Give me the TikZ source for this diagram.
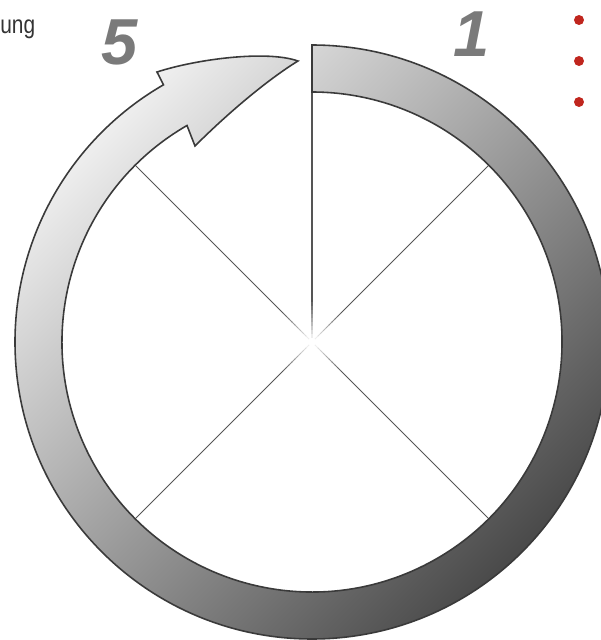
\documentclass[tikz,border=0pt]{standalone}
\usepackage{fontspec}
\setmainfont{Liberation Sans}
\usepackage{tikz}
\usetikzlibrary{positioning}

\definecolor{ringlight}{HTML}{EEEEEE}
\definecolor{ringdark}{HTML}{4A4A4A}
\definecolor{rimline}{HTML}{3A3A3A}
\definecolor{numgray}{HTML}{7A7A7A}
\definecolor{dotred}{HTML}{C0261E}
\definecolor{spokegray}{HTML}{555555}

\begin{document}
\begin{tikzpicture}[
    x=0.02cm, y=0.02cm,
    ring/.style={
        draw=rimline,
        line width=0.9pt,
        top color=ringlight,
        bottom color=ringdark,
        shading angle=45
    },
    spoke/.style={
        line width=0.6pt
    },
    num/.style={
        text=numgray,
        font=\fontsize{37}{37}\selectfont\bfseries\itshape,
        inner sep=0pt
    },
    dot/.style={
        circle,
        fill=dotred,
        minimum size=0.2cm,
        inner sep=0pt,
        outer sep=0pt
    }
]
\useasboundingbox (-312,-298) rectangle (289,342);

% spokes, fading out towards the hub
\foreach \a in {45,90,135,225,315} {
    \draw[spoke, spokegray] (\a:40) -- (\a:250);
    \foreach \i in {0,...,8} {
        \pgfmathsetmacro\rin{4+4*\i}
        \pgfmathsetmacro\rout{8.5+4*\i}
        \pgfmathsetmacro\c{10+10*\i}
        \draw[spoke, spokegray!\c!white] (\a:\rin) -- (\a:\rout);
    }
}

% ring with arrow head
\shade[ring] (90:250) -- (90:297) arc[start angle=90, end angle=-240, radius=297]
    -- (-155,270) .. controls (-115,283) and (-45,292) .. (-14,281)
    .. controls (-45,262) and (-85,228) .. (-117,196)
    -- (120:250) arc[start angle=120, end angle=450, radius=250] -- cycle;

\node[num] (five) at (-192,300) {5};
\node[num] (one) at (160,308) {1};

\node[anchor=west, inner sep=0pt, text=black!80, font=\fontsize{14.5}{14.5}\selectfont,
    xscale=0.82, transform shape] (caption) at (-312,313) {ung};

\node[dot] (dot1) at (267,322) {};
\node[dot, below=0.62cm of dot1] (dot2) {};
\node[dot, below=0.62cm of dot2] (dot3) {};

\end{tikzpicture}
\end{document}
